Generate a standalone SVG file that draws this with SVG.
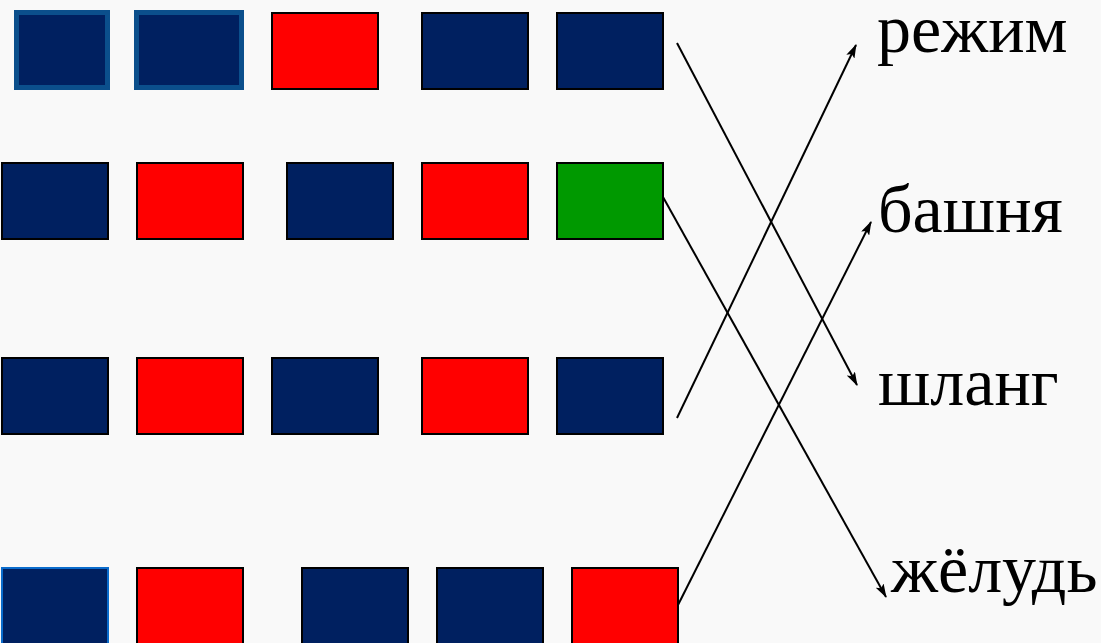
<svg xmlns="http://www.w3.org/2000/svg" width="1101" height="643" viewBox="0 0 1101 643">
<style>
.navy{fill:#002060;stroke:#000;stroke-width:2}
.red{fill:#ff0000;stroke:#000;stroke-width:2}
.green{fill:#009900;stroke:#000;stroke-width:2}
.navyb{fill:#002060;stroke:#0b4f8c;stroke-width:5}
.navyl{fill:#002060;stroke:#0a6ccc;stroke-width:2}
.word{font-family:"Liberation Serif","DejaVu Serif",serif;font-size:68px;fill:#000}
.conn{stroke:#000;stroke-width:2;fill:none;marker-end:url(#ah)}
</style>
<defs>
<marker id="ah" markerUnits="userSpaceOnUse" markerWidth="14" markerHeight="9" viewBox="0 0 14 9" refX="13" refY="4.5" orient="auto">
<path d="M0,0 L14,4.5 L0,9 L3,4.5 z" fill="#000"/>
</marker>
</defs>
<rect width="1101" height="643" fill="#f9f9f9"/>
<g id="row1">
<g id="r1b1"><rect class="navyb" x="16.5" y="12.5" width="91" height="75"/></g>
<g id="r1b2"><rect class="navyb" x="136.5" y="12.5" width="105" height="75"/></g>
<g id="r1b3"><rect class="red" x="272" y="13" width="106" height="76"/></g>
<g id="r1b4"><rect class="navy" x="422" y="13" width="106" height="76"/></g>
<g id="r1b5"><rect class="navy" x="557" y="13" width="106" height="76"/></g>
</g>
<g id="row2">
<g id="r2b1"><rect class="navy" x="2" y="163" width="106" height="76"/></g>
<g id="r2b2"><rect class="red" x="137" y="163" width="106" height="76"/></g>
<g id="r2b3"><rect class="navy" x="287" y="163" width="106" height="76"/></g>
<g id="r2b4"><rect class="red" x="422" y="163" width="106" height="76"/></g>
<g id="r2b5"><rect class="green" x="557" y="163" width="106" height="76"/></g>
</g>
<g id="row3">
<g id="r3b1"><rect class="navy" x="2" y="358" width="106" height="76"/></g>
<g id="r3b2"><rect class="red" x="137" y="358" width="106" height="76"/></g>
<g id="r3b3"><rect class="navy" x="272" y="358" width="106" height="76"/></g>
<g id="r3b4"><rect class="red" x="422" y="358" width="106" height="76"/></g>
<g id="r3b5"><rect class="navy" x="557" y="358" width="106" height="76"/></g>
</g>
<g id="row4">
<g id="r4b1"><rect class="navyl" x="2" y="568" width="106" height="80"/></g>
<g id="r4b2"><rect class="red" x="137" y="568" width="106" height="80"/></g>
<g id="r4b3"><rect class="navy" x="302" y="568" width="106" height="80"/></g>
<g id="r4b4"><rect class="navy" x="437" y="568" width="106" height="80"/></g>
<g id="r4b5"><rect class="red" x="572" y="568" width="106" height="80"/></g>
</g>
<g id="words">
<g id="w1"><text class="word" x="877" y="52">режим</text></g>
<g id="w2"><text class="word" x="878" y="232">башня</text></g>
<g id="w3"><text class="word" x="878" y="405">шланг</text></g>
<g id="w4"><text class="word" x="891" y="592">жёлудь</text></g>
</g>
<g id="connectors">
<line class="conn" x1="677" y1="43" x2="857" y2="385"/>
<line class="conn" x1="677" y1="418" x2="856" y2="45"/>
<line class="conn" x1="663" y1="197" x2="886" y2="597"/>
<line class="conn" x1="678" y1="605" x2="871" y2="222"/>
</g>
</svg>
